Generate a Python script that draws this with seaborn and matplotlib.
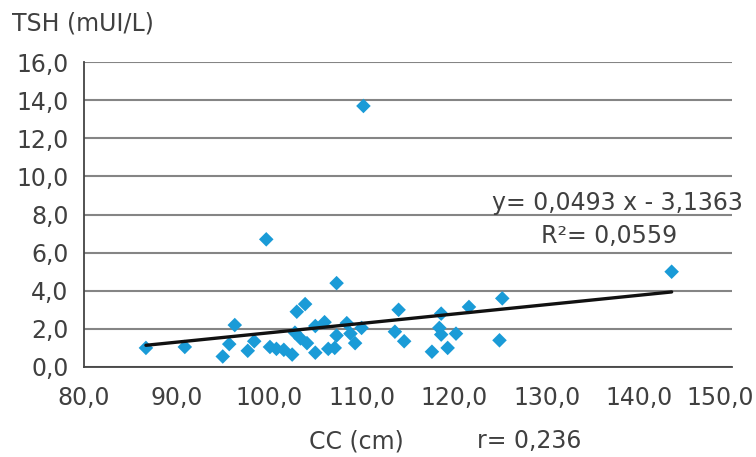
import matplotlib
matplotlib.use("Agg")
import matplotlib.pyplot as plt
import matplotlib.transforms as mtransforms
from matplotlib.ticker import FuncFormatter
import seaborn as sns
import pandas as pd
import numpy as np

# waist circumference (cm) vs TSH (mUI/L)
cc = [86.7, 90.9, 95.0, 95.7, 96.3, 97.7, 98.4, 99.7, 100.1, 100.8,
      101.6, 102.5, 102.8, 103.0, 103.4, 103.9, 104.1, 105.0, 105.0, 106.0,
      106.4, 107.1, 107.3, 107.3, 108.4, 108.8, 109.3, 110.0, 110.2, 113.6,
      114.0, 114.6, 117.6, 118.4, 118.6, 118.6, 119.3, 120.2, 121.6, 124.9,
      125.2, 143.5]
tsh = [1.0, 1.05, 0.55, 1.2, 2.2, 0.85, 1.35, 6.7, 1.05, 0.95,
       0.9, 0.65, 1.8, 2.9, 1.5, 3.3, 1.25, 0.75, 2.15, 2.35,
       0.95, 1.0, 1.65, 4.4, 2.3, 1.75, 1.25, 2.05, 13.7, 1.85,
       3.0, 1.35, 0.8, 2.05, 2.8, 1.7, 1.0, 1.75, 3.15, 1.4,
       3.6, 5.0]

# trend line as printed on the chart
slope = 0.0493
intercept = -3.1363
r_squared = 0.0559
r_value = 0.236

df = pd.DataFrame({"cc": cc, "tsh": tsh})

sns.set_style("white")
plt.rcParams["font.family"] = ["DejaVu Sans"]

fig = plt.figure(figsize=(7.56, 4.57), dpi=100)
ax = fig.add_axes([0.111, 0.197, 0.857, 0.667])

txt = "#404040"
fs = 17
ax.yaxis.grid(True, color="#858585", linewidth=1.5)
ax.set_axisbelow(True)

sns.scatterplot(data=df, x="cc", y="tsh", marker="D", s=55,
                color="#1a9bd7", edgecolor="none", ax=ax, zorder=3)

xs = np.array([min(cc), max(cc)])
ax.plot(xs, slope * xs + intercept, color="#111111", linewidth=2.4, zorder=4)

ax.set_xlim(80, 150)
ax.set_ylim(0, 16)
ax.set_xticks(np.arange(80, 151, 10))
ax.set_yticks(np.arange(0, 17, 2))
fmt = FuncFormatter(lambda v, p: f"{v:.1f}".replace(".", ","))
ax.xaxis.set_major_formatter(fmt)
ax.yaxis.set_major_formatter(fmt)
ax.tick_params(axis="x", labelsize=fs, colors=txt, length=7, width=1.3,
               direction="out", pad=7)
ax.tick_params(axis="y", labelsize=fs, labelcolor=txt, color="#858585",
               length=10, width=1.5, direction="out", pad=1)

# last x label sits a bit inside the figure, like the original
last = ax.xaxis.get_major_ticks()[-1].label1
last.set_transform(last.get_transform() +
                   mtransforms.ScaledTranslation(-12 / 100, 0, fig.dpi_scale_trans))

for side in ["top", "right"]:
    ax.spines[side].set_visible(False)
for side in ["left", "bottom"]:
    ax.spines[side].set_color("#444444")
    ax.spines[side].set_linewidth(1.3)

ax.set_xlabel("")
ax.set_ylabel("")

fig.text(0.016, 0.948, "TSH (mUI/L)", fontsize=fs, color=txt, va="center")
fig.text(0.471, 0.035, "CC (cm)", fontsize=fs, color=txt, ha="center", va="center")
fig.text(0.631, 0.035, f"r= {r_value:.3f}".replace(".", ","), fontsize=fs,
         color=txt, ha="left", va="center")
eq = f"y= {slope:.4f} x - {abs(intercept):.4f}".replace(".", ",")
fig.text(0.982, 0.556, eq, fontsize=fs, color=txt, ha="right", va="center")
fig.text(0.896, 0.484, f"R²= {r_squared:.4f}".replace(".", ","), fontsize=fs,
         color=txt, ha="right", va="center")

fig.savefig("out.png", dpi=100)
